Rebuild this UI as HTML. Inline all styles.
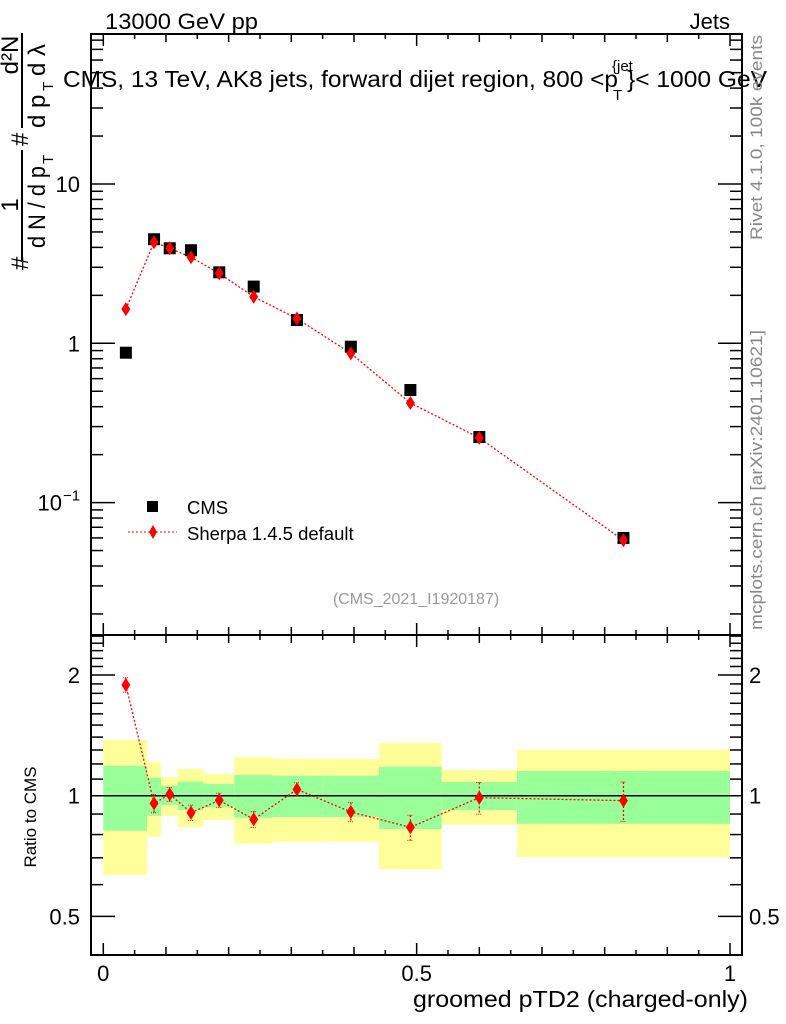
<!DOCTYPE html>
<html><head><meta charset="utf-8"><style>
body{margin:0;background:#fff;}
svg{display:block;font-family:"Liberation Sans",sans-serif;}
</style></head><body>
<svg id="chart" width="786" height="1024" viewBox="0 0 786 1024" xmlns="http://www.w3.org/2000/svg">
<g id="bands"></g>
<g id="ticks"></g>
<rect x="91" y="34" width="651" height="601" fill="none" stroke="#000" stroke-width="2"/>
<rect x="91" y="635" width="651" height="320" fill="none" stroke="#000" stroke-width="2"/>
<line id="unity" x1="91" x2="742" stroke="#000" stroke-width="1.5"/>
<g id="marks"></g>
<text x="105" y="29" font-size="22" textLength="153" lengthAdjust="spacingAndGlyphs">13000 GeV pp</text>
<text x="730" y="29" font-size="22" text-anchor="end">Jets</text>
<text x="63" y="87" font-size="23" textLength="555" lengthAdjust="spacingAndGlyphs">CMS, 13 TeV, AK8 jets, forward dijet region, 800 &lt;p</text>
<text x="613" y="100" font-size="15">T</text>
<text x="612" y="71" font-size="15">{jet</text>
<text x="627" y="87" font-size="23" textLength="140" lengthAdjust="spacingAndGlyphs">}&lt; 1000 GeV</text>
<g transform="rotate(-90)" font-size="24">
<text x="-270" y="28">#</text>
<text x="-205" y="18" text-anchor="middle">1</text>
<line x1="-262" x2="-150" y1="22" y2="22" stroke="#000" stroke-width="2"/>
<text x="-248" y="45" textLength="82" lengthAdjust="spacingAndGlyphs">d N / d p</text>
<text x="-164" y="53" font-size="15">T</text>
<text x="-146" y="28">#</text>
<text x="-55" y="18" text-anchor="middle">d²N</text>
<line x1="-128" x2="-33" y1="22" y2="22" stroke="#000" stroke-width="2"/>
<text x="-128" y="45">d p</text>
<text x="-91" y="53" font-size="15">T</text>
<text x="-76" y="45">d λ</text>
</g>
<text transform="translate(36,817) rotate(-90)" font-size="17" text-anchor="middle">Ratio to CMS</text>
<text x="748" y="1007" font-size="23" text-anchor="end" textLength="335" lengthAdjust="spacingAndGlyphs">groomed pTD2 (charged-only)</text>
<text transform="translate(762,240) rotate(-90)" font-size="17" fill="#888" textLength="205" lengthAdjust="spacingAndGlyphs">Rivet 4.1.0,  100k events</text>
<text transform="translate(762,630) rotate(-90)" font-size="17" fill="#888" textLength="300" lengthAdjust="spacingAndGlyphs">mcplots.cern.ch [arXiv:2401.10621]</text>
<text x="416" y="604" font-size="16" fill="#999" text-anchor="middle">(CMS_2021_I1920187)</text>
<g>
<rect x="147" y="501" width="11" height="11" fill="#000"/>
<text x="187" y="514" font-size="18.5">CMS</text>
<line x1="128" x2="177" y1="532" y2="532" stroke="red" stroke-width="1" stroke-dasharray="2,2"/>
<path d="M153 525 L157 532 L153 539 L149 532 Z" fill="red"/>
<text x="187" y="540" font-size="18.5">Sherpa 1.4.5 default</text>
</g>
<g id="labels" font-size="22"></g>
</svg>
<script>
const binEdges=[0,0.07,0.092,0.119,0.16,0.209,0.27,0.35,0.44,0.54,0.66,1.0];
const xPoints=[0.036,0.081,0.106,0.14,0.185,0.24,0.309,0.395,0.49,0.6,0.83];
const cmsValues=[0.873,4.5,3.95,3.84,2.79,2.27,1.40,0.952,0.509,0.258,0.060];
const sherpaValues=[1.64,4.31,3.95,3.47,2.75,1.96,1.43,0.865,0.422,0.255,0.058];
const ratioValues=[1.89,0.957,1.008,0.907,0.974,0.873,1.037,0.911,0.834,0.989,0.972];
const ratioErr=[0.08,0.05,0.04,0.04,0.04,0.04,0.04,0.05,0.06,0.09,0.11];
const greenHi=[1.188,1.109,1.059,1.084,1.069,1.126,1.122,1.122,1.181,1.082,1.152];
const greenLo=[0.818,0.891,0.948,0.92,0.935,0.881,0.885,0.885,0.826,0.921,0.851];
const yellowHi=[1.377,1.216,1.113,1.166,1.133,1.247,1.235,1.235,1.353,1.159,1.302];
const yellowLo=[0.634,0.79,0.891,0.835,0.87,0.759,0.768,0.768,0.655,0.847,0.703];
const xTickLabels=["0","0.5","1"];
const mainTickLabels=["10","1","10"];
const ratioTickLabels=["2","1","0.5"];

const NS="http://www.w3.org/2000/svg";
const X=v=>103.3+626.7*v;
const Y=v=>343.3-159.3*Math.log10(v);
const R=v=>795.7-401*Math.log10(v);
function mk(tag,attrs,parent){const e=document.createElementNS(NS,tag);for(const k in attrs)e.setAttribute(k,attrs[k]);parent.appendChild(e);return e;}
const bands=document.getElementById('bands'),marks=document.getElementById('marks'),ticks=document.getElementById('ticks'),labels=document.getElementById('labels');
document.getElementById('unity').setAttribute('y1',R(1));document.getElementById('unity').setAttribute('y2',R(1));
for(let i=0;i<binEdges.length-1;i++){
 const x0=X(binEdges[i]),w=X(binEdges[i+1])-x0;
 const y=mk('rect',{x:x0,y:R(yellowHi[i]),width:w,height:R(yellowLo[i])-R(yellowHi[i]),fill:'#ffff99'},bands);
 
 
 const g=mk('rect',{x:x0,y:R(greenHi[i]),width:w,height:R(greenLo[i])-R(greenHi[i]),fill:'#99ff99'},bands);
 
 
}
for(let k=0;k<=20;k++){const v=k*0.05,x=X(v);const L=(k%10==0)?12:(k%2==0?8:5);
 [[34,34+L],[635,635-L],[635,635+L],[955,955-L]].forEach(a=>mk('line',{x1:x,x2:x,y1:a[0],y2:a[1],stroke:'#000','stroke-width':1.5},ticks));}
for(let d=-2;d<=1;d++)for(let m=1;m<=9;m++){const v=m*Math.pow(10,d),y=Y(v);if(y<34||y>635)continue;const L=m==1?24:12;
 mk('line',{x1:91,x2:91+L,y1:y,y2:y,stroke:'#000','stroke-width':1.5},ticks);mk('line',{x1:742,x2:742-L,y1:y,y2:y,stroke:'#000','stroke-width':1.5},ticks);}
for(let k=4;k<=25;k++){const v=k/10,y=R(v);if(y<635||y>955)continue;const L=(k==5||k==10||k==20)?24:12;
 mk('line',{x1:91,x2:91+L,y1:y,y2:y,stroke:'#000','stroke-width':1.5},ticks);mk('line',{x1:742,x2:742-L,y1:y,y2:y,stroke:'#000','stroke-width':1.5},ticks);}
[0,0.5,1].forEach((v,i)=>{const t=mk('text',{x:X(v),y:981,'text-anchor':'middle'},labels);t.textContent=xTickLabels[i];});
[10,1,0.1].forEach((v,i)=>{const t=mk('text',{x:v==0.1?62:80,y:Y(v)+8,'text-anchor':'end'},labels);t.textContent=mainTickLabels[i];
 if(v==0.1){const s=mk('text',{x:63,y:Y(v)-2,'font-size':15},labels);s.textContent='−1';}});
[2,1,0.5].forEach((v,i)=>{const t=mk('text',{x:80,y:R(v)+8,'text-anchor':'end'},labels);t.textContent=ratioTickLabels[i];
 const t2=mk('text',{x:749,y:R(v)+8},labels);t2.textContent=ratioTickLabels[i];});
const dia=(x,y)=>`M${x} ${y-7} L${x+4.5} ${y} L${x} ${y+7} L${x-4.5} ${y} Z`;
mk('polyline',{points:xPoints.map((v,i)=>X(v)+','+Y(sherpaValues[i])).join(' '),fill:'none',stroke:'red','stroke-width':1.3,'stroke-dasharray':'2,2'},marks);
xPoints.forEach((v,i)=>{const s=mk('rect',{x:X(v)-6,y:Y(cmsValues[i])-6,width:12,height:12,fill:'#000'},marks);
 });
xPoints.forEach((v,i)=>{const d=mk('path',{d:dia(X(v),Y(sherpaValues[i])),fill:'red'},marks);
 });
mk('polyline',{points:xPoints.map((v,i)=>X(v)+','+R(ratioValues[i])).join(' '),fill:'none',stroke:'red','stroke-width':1.3,'stroke-dasharray':'2,2'},marks);
xPoints.forEach((v,i)=>{const x=X(v),y1=R(ratioValues[i]+ratioErr[i]),y2=R(ratioValues[i]-ratioErr[i]);
 mk('line',{x1:x,x2:x,y1:y1,y2:y2,stroke:'red','stroke-width':1.3,'stroke-dasharray':'2,2'},marks);
 mk('line',{x1:x-3,x2:x+3,y1:y1,y2:y1,stroke:'red','stroke-width':1,'stroke-dasharray':'1,1'},marks);
 mk('line',{x1:x-3,x2:x+3,y1:y2,y2:y2,stroke:'red','stroke-width':1,'stroke-dasharray':'1,1'},marks);
 const d=mk('path',{d:dia(x,R(ratioValues[i])),fill:'red'},marks);
 });
</script>
</body></html>
